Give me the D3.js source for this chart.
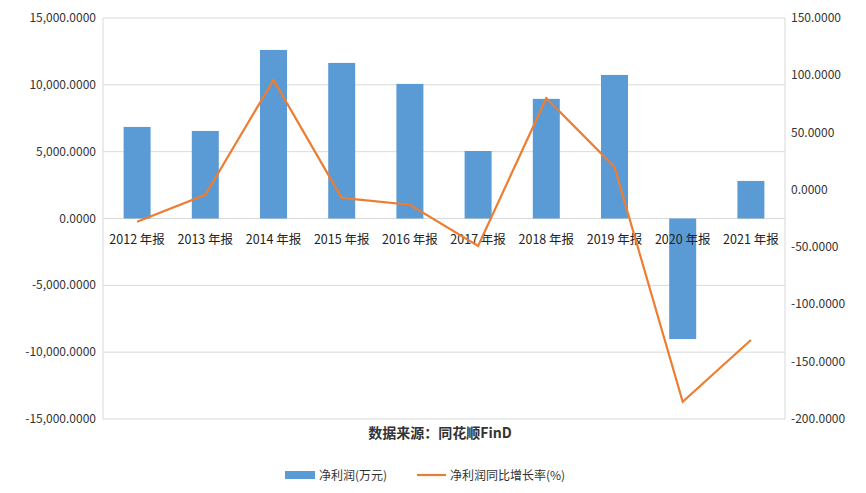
<!DOCTYPE html><html><head><meta charset="utf-8"><script src="https://cdn.jsdelivr.net/npm/d3@7"></script>
<style>body{margin:0;background:#fff;font-family:"Noto Sans CJK SC","DejaVu Sans",sans-serif}</style></head><body><svg id="c" width="866" height="493"></svg><script>
const categories=["2012 年报","2013 年报","2014 年报","2015 年报","2016 年报","2017 年报","2018 年报","2019 年报","2020 年报","2021 年报"];
const profit=[6850,6550,12610,11640,10070,5050,8950,10740,-9020,2810];
const growth=[-27.9,-4.4,96,-7,-13,-49,80,20,-185,-131];
const leftTicks=[-15000,-10000,-5000,0,5000,10000,15000];
const rightTicks=[-200,-150,-100,-50,0,50,100,150];
const svg=d3.select("#c");
const L=103,R=785,T=18,B=419;
const x=d3.scaleBand().domain(categories).range([L,R]);
const y=d3.scaleLinear().domain([-15000,15000]).range([B,T]);
const y2=d3.scaleLinear().domain([-200,150]).range([B,T]);
svg.append("g").selectAll("line").data(leftTicks).join("line").attr("x1",L).attr("x2",R).attr("y1",d=>y(d)).attr("y2",d=>y(d)).attr("stroke","#d9d9d9");
svg.append("line").attr("x1",L).attr("x2",L).attr("y1",T).attr("y2",B).attr("stroke","#d9d9d9");
svg.append("line").attr("x1",R).attr("x2",R).attr("y1",T).attr("y2",B).attr("stroke","#d9d9d9");
const fmt=d=>d3.format(",.4f")(d).replace("−","-");
svg.append("g").selectAll("text").data(leftTicks).join("text").attr("x",L-7).attr("y",d=>y(d)+4).attr("text-anchor","end").attr("font-size",12).attr("fill","#333").text(fmt);
svg.append("g").selectAll("text").data(rightTicks).join("text").attr("x",R+6).attr("y",d=>y2(d)+4).attr("font-size",12).attr("fill","#333").text(d=>d3.format(".4f")(d).replace("−","-"));
const bw=27;
svg.append("g").selectAll("rect").data(profit).join("rect").attr("x",(d,i)=>x(categories[i])+x.bandwidth()/2-bw/2).attr("width",bw).attr("y",d=>y(Math.max(0,d))).attr("height",d=>Math.abs(y(d)-y(0))).attr("fill","#5b9bd5");
svg.append("g").selectAll("text").data(categories).join("text").attr("x",d=>x(d)+x.bandwidth()/2).attr("y",y(0)+25).attr("text-anchor","middle").attr("font-size",12.5).attr("fill","#222").text(d=>d);
svg.append("path").datum(growth).attr("fill","none").attr("stroke","#ed7d31").attr("stroke-width",2.2)
 .attr("d",d3.line().x((d,i)=>x(categories[i])+x.bandwidth()/2).y(d=>y2(d)));
svg.append("text").attr("x",440).attr("y",438).attr("text-anchor","middle").attr("font-size",14).attr("font-weight","bold").attr("fill","#333").text("数据来源：同花顺FinD");
svg.append("rect").attr("x",285).attr("y",471).attr("width",30).attr("height",8).attr("fill","#5b9bd5");
svg.append("text").attr("x",319).attr("y",480).attr("font-size",12).attr("fill","#333").text("净利润(万元)");
svg.append("line").attr("x1",417).attr("x2",446).attr("y1",475).attr("y2",475).attr("stroke","#ed7d31").attr("stroke-width",2.2);
svg.append("text").attr("x",450).attr("y",480).attr("font-size",12).attr("fill","#333").text("净利润同比增长率(%)");
</script></body></html>
